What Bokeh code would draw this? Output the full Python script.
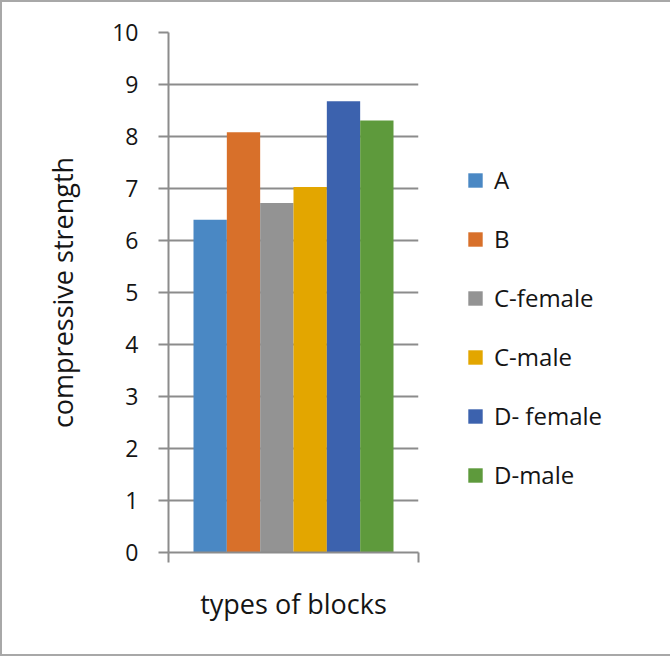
from bokeh.plotting import figure
from bokeh.models import (ColumnDataSource, Range1d, FixedTicker, Legend, LegendItem)
from bokeh.embed import file_html
from bokeh.resources import INLINE

series = ["A", "B", "C-female", "C-male", "D- female", "D-male"]
values = [6.4, 8.08, 6.72, 7.03, 8.68, 8.31]
colors = ["#4a88c4", "#d8702a", "#939393", "#e3a600", "#3c62ae", "#5e9a3c"]
y_ticks = [0, 1, 2, 3, 4, 5, 6, 7, 8, 9, 10]
x_title = "types of blocks"
y_title = "compressive strength"

FONT = "Open Sans"
GREY = "#8c8c8c"
TXT = "#151515"

pos = list(range(len(series)))
src = ColumnDataSource(dict(x=pos, s=series, v=values, c=colors))

gap = 0.75
x0 = -0.5 - gap
x1 = len(series) - 0.5 + gap

p = figure(width=654, height=652, frame_width=250, frame_height=520,
           output_backend="svg", toolbar_location=None,
           x_range=Range1d(x0, x1), y_range=Range1d(0, 10),
           min_border_left=166, min_border_right=236,
           min_border_top=30, min_border_bottom=102)
p.styles = {"border": "2px solid #a8a8a8"}
p.outline_line_color = None
p.background_fill_color = "white"
p.border_fill_color = "white"

r = p.vbar(x="x", top="v", width=1.0, fill_color="c", line_color=None, source=src)

xax = p.xaxis[0]
xax.ticker = FixedTicker(ticks=[x0, x1])
xax.axis_label = x_title
xax.major_label_text_font_size = "0px"
xax.major_label_text_color = None
xax.axis_line_color = GREY
xax.axis_line_width = 2
xax.major_tick_line_color = GREY
xax.major_tick_line_width = 2
xax.major_tick_out = 10
xax.major_tick_in = 0
xax.minor_tick_line_color = None
xax.axis_label_text_font = FONT
xax.axis_label_text_font_size = "27px"
xax.axis_label_text_font_style = "normal"
xax.axis_label_text_color = TXT
xax.axis_label_standoff = 22
p.xgrid.visible = False

ya = p.yaxis[0]
ya.ticker = FixedTicker(ticks=y_ticks)
ya.axis_line_color = GREY
ya.axis_line_width = 2
ya.major_tick_line_color = GREY
ya.major_tick_line_width = 2
ya.major_tick_out = 10
ya.major_tick_in = 0
ya.minor_tick_line_color = None
ya.major_label_standoff = 20
ya.major_label_text_font = FONT
ya.major_label_text_font_size = "23px"
ya.major_label_text_color = TXT
ya.axis_label = y_title
ya.axis_label_text_font = FONT
ya.axis_label_text_font_size = "27px"
ya.axis_label_text_font_style = "normal"
ya.axis_label_text_color = TXT
ya.axis_label_standoff = 28

p.ygrid.ticker = FixedTicker(ticks=y_ticks)
p.ygrid.grid_line_color = GREY
p.ygrid.grid_line_width = 2

items = []
for i, name in enumerate(series):
    items.append(LegendItem(label=name, renderers=[r], index=i))
legend = Legend(items=items, location="bottom_left")
legend.glyph_width = 18
legend.glyph_height = 18
legend.label_height = 59
legend.label_standoff = 10
legend.spacing = 0
legend.padding = 0
legend.margin = 48
legend.border_line_color = None
legend.background_fill_alpha = 0
legend.label_text_font = FONT
legend.label_text_font_size = "24px"
legend.label_text_color = TXT
p.add_layout(legend, "right")

open("out.html", "w").write(file_html(p, INLINE))
